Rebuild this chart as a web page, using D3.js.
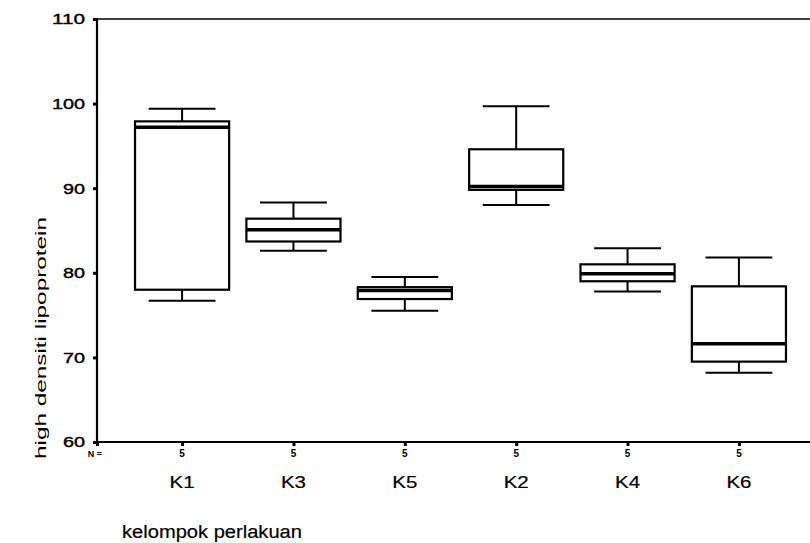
<!DOCTYPE html>
<html>
<head>
<meta charset="utf-8">
<script src="https://cdn.jsdelivr.net/npm/d3@7"></script>
<style>
  html, body { margin: 0; padding: 0; background: #fff; }
  svg { display: block; font-family: "Liberation Sans", Arial, sans-serif; }
</style>
</head>
<body>
<svg id="chart" width="810" height="543"></svg>
<script>
// ---- data ----
const categories = ["K1", "K3", "K5", "K2", "K4", "K6"];
const counts     = [5, 5, 5, 5, 5, 5];
const whiskerLow = [76.7, 82.6, 75.5, 88.0, 77.8, 68.2];
const q1         = [78.0, 83.7, 76.9, 89.8, 79.0, 69.5];
const medians    = [97.2, 85.1, 77.9, 90.2, 79.9, 71.6];
const q3         = [97.9, 86.4, 78.3, 94.6, 81.0, 78.4];
const whiskerHigh= [99.4, 88.3, 79.5, 99.7, 82.9, 81.8];
const yTicks     = [60, 70, 80, 90, 100, 110];
const yTitle = "high densiti lipoprotein";
const xTitle = "kelompok perlakuan";
const nLabel = "N =";

const boxes = categories.map((c, i) => ({
  cat: c, n: counts[i], lo: whiskerLow[i], q1: q1[i], med: medians[i], q3: q3[i], hi: whiskerHigh[i]
}));

const svg = d3.select("#chart");
const pLeft = 97, pTop = 19, pBottom = 442, pRight = 824;

const x = d3.scalePoint().domain(categories).range([pLeft, pRight]).padding(0.764);
const y = d3.scaleLinear().domain([60, 110]).range([pBottom, pTop]);
const step = x.step();
const boxW = step * 0.845;
const capW = step * 0.6;

// frame: top line, left axis, bottom axis
svg.append("line").attr("x1", pLeft).attr("x2", pRight).attr("y1", pTop).attr("y2", pTop)
  .attr("stroke", "#000").attr("stroke-width", 1.6);
svg.append("line").attr("x1", pLeft).attr("x2", pLeft).attr("y1", pTop - 1).attr("y2", pBottom + 1)
  .attr("stroke", "#000").attr("stroke-width", 2.2);
svg.append("line").attr("x1", pLeft).attr("x2", pRight).attr("y1", pBottom).attr("y2", pBottom)
  .attr("stroke", "#000").attr("stroke-width", 2);

// y axis ticks and labels
const yAxis = d3.axisLeft(y).tickValues(yTicks).tickSize(4).tickPadding(8);
const gy = svg.append("g").attr("transform", `translate(${pLeft},0)`).call(yAxis);
gy.select(".domain").remove();
gy.selectAll(".tick line").attr("stroke", "#000").attr("stroke-width", 3);
gy.selectAll(".tick text")
  .attr("font-size", 15).attr("fill", "#000")
  .attr("stroke", "#000").attr("stroke-width", 0.4)
  .attr("font-family", "'Liberation Sans', Arial, sans-serif")
  .attr("textLength", d => String(d).length === 3 ? 33 : 22)
  .attr("lengthAdjust", "spacingAndGlyphs");

// x axis ticks
const xAxis = d3.axisBottom(x).tickSize(4).tickFormat("");
const gx = svg.append("g").attr("transform", `translate(0,${pBottom})`).call(xAxis);
gx.select(".domain").remove();
gx.selectAll(".tick line").attr("stroke", "#000").attr("stroke-width", 3);

// N = row
svg.append("text").attr("x", 95).attr("y", 457).attr("text-anchor", "middle")
  .attr("font-size", 9).attr("font-weight", "bold").text(nLabel);
svg.append("rect").attr("x", pLeft - 1).attr("y", pBottom).attr("width", 3).attr("height", 4).attr("fill", "#000");

svg.selectAll("text.n").data(boxes).join("text").attr("class", "n")
  .attr("x", d => x(d.cat)).attr("y", 457).attr("text-anchor", "middle")
  .attr("font-size", 10).attr("font-weight", "bold").text(d => d.n);

// category labels
svg.selectAll("text.cat").data(boxes).join("text").attr("class", "cat")
  .attr("x", d => x(d.cat)).attr("y", 488).attr("text-anchor", "middle")
  .attr("font-size", 16).attr("textLength", 25).attr("lengthAdjust", "spacingAndGlyphs")
  .attr("stroke", "#000").attr("stroke-width", 0.2)
  .text(d => d.cat);

// x title
svg.append("text").attr("x", 122).attr("y", 538).attr("font-size", 18)
  .attr("textLength", 180).attr("lengthAdjust", "spacingAndGlyphs")
  .attr("stroke", "#000").attr("stroke-width", 0.2).text(xTitle);

// y title
svg.append("text").attr("transform", "translate(46,338) rotate(-90)")
  .attr("text-anchor", "middle").attr("font-size", 15)
  .attr("textLength", 242).attr("lengthAdjust", "spacingAndGlyphs")
  .text(yTitle);

// boxplots
const g = svg.selectAll("g.box").data(boxes).join("g").attr("class", "box");
// whisker stems
g.append("line").attr("x1", d => x(d.cat)).attr("x2", d => x(d.cat))
  .attr("y1", d => y(d.hi)).attr("y2", d => y(d.q3)).attr("stroke", "#000").attr("stroke-width", 2);
g.append("line").attr("x1", d => x(d.cat)).attr("x2", d => x(d.cat))
  .attr("y1", d => y(d.q1)).attr("y2", d => y(d.lo)).attr("stroke", "#000").attr("stroke-width", 2);
// caps
g.append("line").attr("x1", d => x(d.cat) - capW / 2).attr("x2", d => x(d.cat) + capW / 2)
  .attr("y1", d => y(d.hi)).attr("y2", d => y(d.hi)).attr("stroke", "#000").attr("stroke-width", 2);
g.append("line").attr("x1", d => x(d.cat) - capW / 2).attr("x2", d => x(d.cat) + capW / 2)
  .attr("y1", d => y(d.lo)).attr("y2", d => y(d.lo)).attr("stroke", "#000").attr("stroke-width", 2);
// box
g.append("rect").attr("x", d => x(d.cat) - boxW / 2).attr("width", boxW)
  .attr("y", d => y(d.q3)).attr("height", d => y(d.q1) - y(d.q3))
  .attr("fill", "#fff").attr("stroke", "#000").attr("stroke-width", 2.2);
// median
g.append("line").attr("x1", d => x(d.cat) - boxW / 2).attr("x2", d => x(d.cat) + boxW / 2)
  .attr("y1", d => y(d.med)).attr("y2", d => y(d.med)).attr("stroke", "#000").attr("stroke-width", 3.5);
</script>
</body>
</html>
